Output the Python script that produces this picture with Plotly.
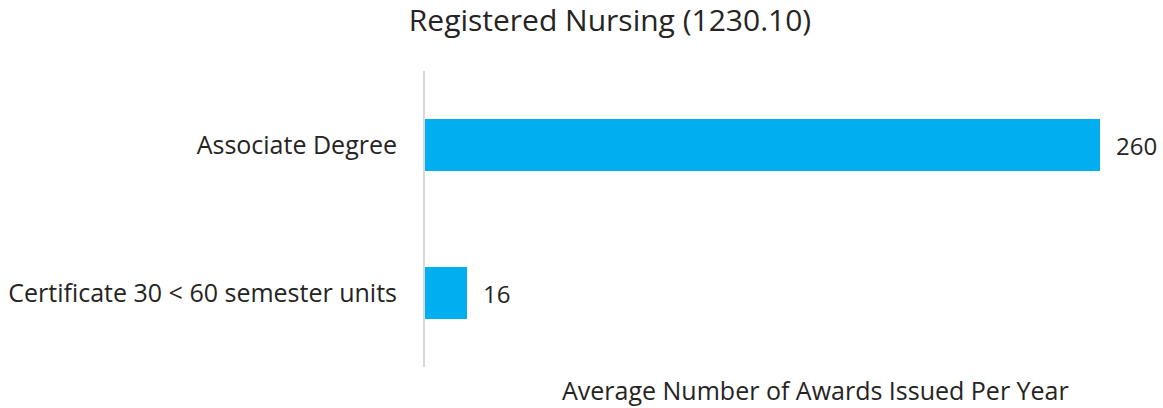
import plotly.graph_objects as go

categories = ['Associate Degree', 'Certificate 30 < 60 semester units']
awards = [260, 16]

title_text = 'Registered Nursing (1230.10)'
x_title = 'Average Number of Awards Issued Per Year'

font_family = 'Open Sans, Noto Sans, sans-serif'
text_color = '#252423'
bar_color = '#01AEEF'

W, H = 1163, 408
L, R, T, B = 425, 25, 71, 41

fig = go.Figure()
fig.add_trace(go.Bar(
    y=categories,
    x=awards,
    orientation='h',
    marker=dict(color=bar_color, line=dict(width=0)),
    width=0.355,
    textposition='none',
    hoverinfo='skip',
))

# value labels next to each bar
for cat, val in zip(categories, awards):
    fig.add_annotation(x=val, y=cat, xref='x', yref='y', text=str(val),
                       showarrow=False, xanchor='left', xshift=14,
                       font=dict(size=24, color=text_color, family=font_family))

plot_w = W - L - R
fig.add_annotation(x=(815 - L) / plot_w, y=0, xref='paper', yref='paper',
                   text=x_title, showarrow=False, xanchor='center',
                   yanchor='top', yshift=-4,
                   font=dict(size=25, color=text_color, family=font_family))

fig.update_layout(
    width=W,
    height=H,
    margin=dict(l=L, r=R, t=T, b=B, autoexpand=False),
    paper_bgcolor='white',
    plot_bgcolor='white',
    font=dict(family=font_family, size=25, color=text_color),
    title=dict(text=title_text, x=(610 / W), xanchor='center', y=1 - 20 / H, yanchor='middle',
               font=dict(size=30, color=text_color, family=font_family)),
    showlegend=False,
    bargap=0,
)
fig.update_xaxes(range=[0, 274.6], showgrid=False, zeroline=False,
                 showticklabels=False, showline=False, fixedrange=True)
fig.update_yaxes(autorange='reversed', showline=True, linecolor='#d9d9d9',
                 linewidth=2, ticks='', ticklabelstandoff=21, showgrid=False,
                 tickfont=dict(size=25, color=text_color, family=font_family))

# drop the default page margin so the figure fills the window exactly
fig.write_html('out.html', config={'displayModeBar': False},
               post_script="document.body.style.margin='0';")
